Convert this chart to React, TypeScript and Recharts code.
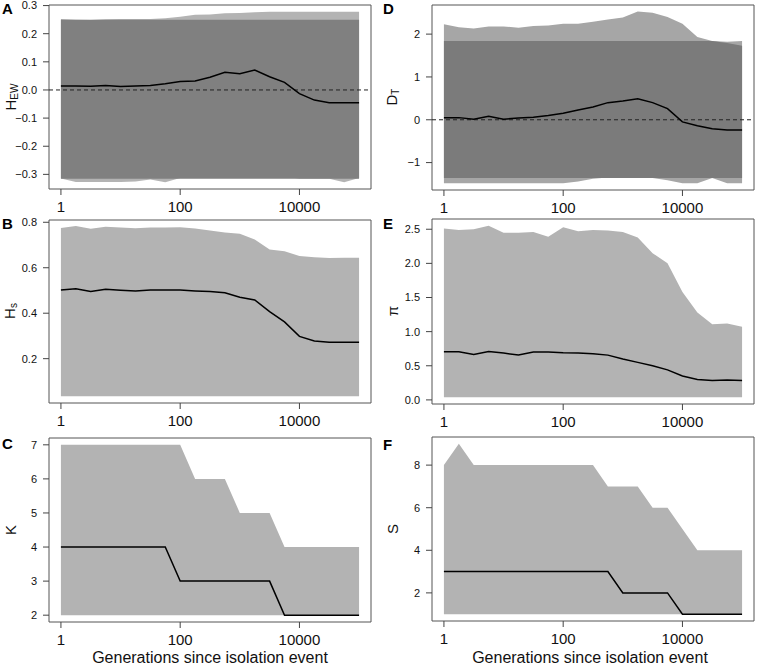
import React from 'react';
import { ComposedChart, Area, Line, XAxis, YAxis, ReferenceLine, ReferenceArea } from 'recharts';

// generations since isolation (log-spaced, quarter decades)
const generations = [1, 1.78, 3.16, 5.62, 10, 17.8, 31.6, 56.2, 100, 178, 316, 562, 1000, 1780, 3160, 5620, 10000, 17800, 31600, 56200, 100000];

// A: H_EW
const hewMean = [0.014, 0.014, 0.013, 0.016, 0.012, 0.014, 0.016, 0.022, 0.03, 0.032, 0.045, 0.063, 0.058, 0.071, 0.047, 0.027, -0.013, -0.036, -0.045, -0.045, -0.045];
const hewSimHi = [0.252, 0.25, 0.249, 0.251, 0.252, 0.252, 0.252, 0.255, 0.26, 0.267, 0.268, 0.273, 0.274, 0.276, 0.278, 0.278, 0.278, 0.278, 0.278, 0.278, 0.278];
const hewSimLo = [-0.315, -0.327, -0.327, -0.327, -0.327, -0.325, -0.318, -0.328, -0.313, -0.313, -0.29, -0.278, -0.275, -0.275, -0.275, -0.307, -0.316, -0.316, -0.316, -0.328, -0.313];
const hewNeutralHi = [0.25];
const hewNeutralLo = [-0.316];

// D: D_T
const dtMean = [0.047, 0.05, 0.01, 0.08, 0.015, 0.04, 0.06, 0.1, 0.15, 0.23, 0.3, 0.4, 0.44, 0.49, 0.4, 0.26, -0.05, -0.14, -0.21, -0.24, -0.24];
const dtSimHi = [2.23, 2.16, 2.13, 2.18, 2.18, 2.15, 2.19, 2.2, 2.24, 2.24, 2.29, 2.34, 2.39, 2.53, 2.5, 2.4, 2.24, 1.93, 1.84, 1.82, 1.84];
const dtSimLo = [-1.48, -1.48, -1.48, -1.48, -1.48, -1.48, -1.48, -1.48, -1.48, -1.44, -1.38, -1.35, -1.34, -1.34, -1.36, -1.41, -1.48, -1.48, -1.36, -1.48, -1.48];
const dtNeutralHi = [1.84, 1.84, 1.84, 1.84, 1.84, 1.84, 1.84, 1.84, 1.84, 1.84, 1.84, 1.84, 1.84, 1.84, 1.84, 1.84, 1.84, 1.84, 1.84, 1.79, 1.73];
const dtNeutralLo = [-1.36];

// B: H_s
const hsMean = [0.502, 0.508, 0.496, 0.505, 0.501, 0.498, 0.502, 0.502, 0.502, 0.498, 0.495, 0.49, 0.47, 0.458, 0.407, 0.362, 0.298, 0.278, 0.272, 0.272, 0.272];
const hsHi = [0.775, 0.784, 0.771, 0.78, 0.777, 0.774, 0.777, 0.777, 0.778, 0.773, 0.764, 0.755, 0.749, 0.724, 0.68, 0.672, 0.652, 0.646, 0.643, 0.644, 0.644];
const hsLo = [0.035];

// E: pi
const piMean = [0.705, 0.705, 0.667, 0.71, 0.686, 0.657, 0.7, 0.7, 0.69, 0.686, 0.676, 0.656, 0.6, 0.55, 0.5, 0.44, 0.35, 0.3, 0.285, 0.29, 0.285];
const piHi = [2.51, 2.49, 2.5, 2.55, 2.45, 2.45, 2.46, 2.39, 2.53, 2.47, 2.49, 2.48, 2.46, 2.38, 2.15, 2.0, 1.58, 1.28, 1.11, 1.12, 1.07];
const piLo = [0.04];

// C: K
const kMean = [4, 4, 4, 4, 4, 4, 4, 4, 3, 3, 3, 3, 3, 3, 3, 2, 2, 2, 2, 2, 2];
const kHi = [7, 7, 7, 7, 7, 7, 7, 7, 7, 6, 6, 6, 5, 5, 5, 4, 4, 4, 4, 4, 4];
const kLo = [2];

// F: S
const sMean = [3, 3, 3, 3, 3, 3, 3, 3, 3, 3, 3, 3, 2, 2, 2, 2, 1, 1, 1, 1, 1];
const sHi = [8, 9, 8, 8, 8, 8, 8, 8, 8, 8, 8, 7, 7, 7, 6, 6, 5, 4, 4, 4, 4];
const sLo = [1];

const xTicks = [1, 100, 10000];

const FONT = '"Liberation Sans", Arial, Helvetica, sans-serif';
const X_DOMAIN = [0.631, 158489];
const Y_AXIS_W = 52;
const TOP_PAD = 10;
const X_AXIS_H = 30;

const pick = (arr: number[], i: number) => (arr.length === 1 ? arr[0] : arr[i]);

function buildRows(mean: number[], lo: number[], hi: number[], nLo?: number[], nHi?: number[]) {
    return generations.map((g, i) => ({
        g,
        mean: mean[i],
        sim: [pick(lo, i), pick(hi, i)],
        neutral: nLo && nHi ? [pick(nLo, i), pick(nHi, i)] : null
    }));
}

const fmt1 = (v: number) => (v < 0 ? '\u2212' : '') + Math.abs(v).toFixed(1);
const fmtInt = (v: number) => (v < 0 ? '\u2212' : '') + Math.abs(v).toFixed(0);

interface PanelProps {
    left: number; top: number; w: number; h: number;
    rows: any[];
    yDomain: number[];
    yTicks: number[];
    yFmt: (v: number) => string;
    simFill: string;
    neutralFill?: string;
    zeroLine?: boolean;
}

function Panel({ left, top, w, h, rows, yDomain, yTicks, yFmt, simFill, neutralFill, zeroLine }: PanelProps) {
    return (
        <div style={{ position: 'absolute', left: left - Y_AXIS_W, top: top - TOP_PAD }}>
            <ComposedChart
                width={Y_AXIS_W + w + 3}
                height={TOP_PAD + h + X_AXIS_H}
                data={rows}
                margin={{ top: TOP_PAD, right: 3, bottom: 0, left: 0 }}
            >
                <XAxis
                    dataKey="g"
                    type="number"
                    scale="log"
                    domain={X_DOMAIN}
                    allowDataOverflow
                    ticks={xTicks}
                    height={X_AXIS_H}
                    axisLine={false}
                    tickSize={6}
                    tickMargin={6}
                    tickLine={{ stroke: '#444' }}
                    tick={{ fontSize: 15, fill: '#111', fontFamily: FONT }}
                />
                <YAxis
                    type="number"
                    domain={yDomain}
                    allowDataOverflow
                    ticks={yTicks}
                    width={Y_AXIS_W}
                    axisLine={false}
                    tickSize={6}
                    tickMargin={6}
                    tickLine={{ stroke: '#444' }}
                    tickFormatter={yFmt}
                    tick={{ fontSize: 11, fill: '#111', fontFamily: FONT }}
                />
                <Area type="linear" dataKey="sim" stroke="none" fill={simFill} fillOpacity={1} isAnimationActive={false} />
                {neutralFill && (
                    <Area type="linear" dataKey="neutral" stroke="none" fill={neutralFill} fillOpacity={1} isAnimationActive={false} />
                )}
                {zeroLine && <ReferenceLine y={0} stroke="#222" strokeDasharray="4 3" />}
                <Line type="linear" dataKey="mean" stroke="#000" strokeWidth={1.5} dot={false} isAnimationActive={false} />
                <ReferenceArea
                    x1={X_DOMAIN[0]}
                    x2={X_DOMAIN[1]}
                    y1={yDomain[0]}
                    y2={yDomain[1]}
                    fill="none"
                    stroke="#555"
                    strokeWidth={1}
                    ifOverflow="visible"
                />
            </ComposedChart>
        </div>
    );
}

function YTitle({ x, y, main, sub }: { x: number; y: number; main: string; sub?: string }) {
    return (
        <text transform={`translate(${x},${y}) rotate(-90)`} textAnchor="middle" dominantBaseline="central" fontSize={15} fill="#111">
            {main}
            {sub && <tspan fontSize={10} dy={4}>{sub}</tspan>}
        </text>
    );
}

export default function App() {
    return (
        <div style={{ position: 'absolute', left: 0, top: 0, width: 757, height: 667, overflow: 'hidden', background: '#fff', fontFamily: FONT }}>
            <Panel left={49} top={5} w={322} h={184} rows={buildRows(hewMean, hewSimLo, hewSimHi, hewNeutralLo, hewNeutralHi)}
                yDomain={[-0.352, 0.302]} yTicks={[-0.3, -0.2, -0.1, 0, 0.1, 0.2, 0.3]} yFmt={fmt1}
                simFill="#b3b3b3" neutralFill="#808080" zeroLine />
            <Panel left={432} top={5} w={322} h={185} rows={buildRows(dtMean, dtSimLo, dtSimHi, dtNeutralLo, dtNeutralHi)}
                yDomain={[-1.64, 2.68]} yTicks={[-1, 0, 1, 2]} yFmt={fmtInt}
                simFill="#a6a6a6" neutralFill="#7b7b7b" zeroLine />
            <Panel left={49} top={220} w={322} h={183} rows={buildRows(hsMean, hsLo, hsHi)}
                yDomain={[0.005, 0.81]} yTicks={[0.2, 0.4, 0.6, 0.8]} yFmt={fmt1} simFill="#b3b3b3" />
            <Panel left={432} top={219} w={322} h={185} rows={buildRows(piMean, piLo, piHi)}
                yDomain={[-0.06, 2.65]} yTicks={[0, 0.5, 1, 1.5, 2, 2.5]} yFmt={fmt1} simFill="#b3b3b3" />
            <Panel left={49} top={438} w={322} h={184} rows={buildRows(kMean, kLo, kHi)}
                yDomain={[1.8, 7.2]} yTicks={[2, 3, 4, 5, 6, 7]} yFmt={fmtInt} simFill="#b3b3b3" />
            <Panel left={432} top={437} w={322} h={184} rows={buildRows(sMean, sLo, sHi)}
                yDomain={[0.68, 9.32]} yTicks={[2, 4, 6, 8]} yFmt={fmtInt} simFill="#b3b3b3" />

            <svg width={757} height={667} style={{ position: 'absolute', left: 0, top: 0, pointerEvents: 'none' }} fontFamily={FONT}>
                <g fontWeight="bold" fontSize={15} fill="#000">
                    <text x={2} y={14}>A</text>
                    <text x={383} y={14}>D</text>
                    <text x={2} y={229}>B</text>
                    <text x={383} y={229}>E</text>
                    <text x={2} y={449}>C</text>
                    <text x={383} y={450}>F</text>
                </g>
                <YTitle x={10} y={97} main="H" sub="EW" />
                <YTitle x={391} y={97} main="D" sub="T" />
                <YTitle x={9} y={311} main="H" sub="s" />
                <YTitle x={392} y={311} main="π" />
                <YTitle x={10} y={530} main="K" />
                <YTitle x={392} y={529} main="S" />
                <text x={210} y={663} textAnchor="middle" fontSize={16} fill="#111">Generations since isolation event</text>
                <text x={590} y={663} textAnchor="middle" fontSize={16} fill="#111">Generations since isolation event</text>
            </svg>
        </div>
    );
}
